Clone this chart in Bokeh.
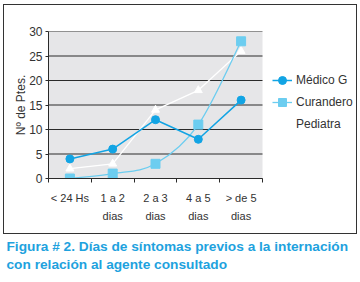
from bokeh.plotting import figure
from bokeh.models import Range1d, FixedTicker, Legend, LegendItem, InlineStyleSheet
from bokeh.embed import file_html
from bokeh.resources import INLINE

categories = ["< 24 Hs", "1 a 2\ndias", "2 a 3\ndias", "4 a 5\ndias", "> de 5\ndias"]
medico = [4, 6, 12, 8, 16]
curandero = [0, 1, 3, 11, 28]
pediatra = [2, 3, 14, 18, 26]
y_ticks = [0, 5, 10, 15, 20, 25, 30]
caption_lines = ["Figura  # 2. Días de síntomas previos a la internación",
                 "con relación al agente consultado"]

n = len(categories)
xs = [i + 0.5 for i in range(n)]
Y_MAX = 30

# layout: plot area 214 px wide; the frame is extended to the right to hold the legend
W, H, LEFT, AREA_W = 360, 282, 48, 214
x_end = n * (W - LEFT) / AREA_W

p = figure(width=W, height=H, output_backend="svg", toolbar_location=None,
           x_range=Range1d(0, x_end), y_range=Range1d(0, Y_MAX),
           min_border_left=LEFT, min_border_right=0, min_border_top=31, min_border_bottom=104)
p.background_fill_color = "white"
p.border_fill_color = "white"
p.outline_line_color = None
p.grid.visible = False

# outer box around the chart (drawn by CSS, not part of the data)
p.stylesheets = [InlineStyleSheet(css=(
    ":host::after{content:'';position:absolute;left:3px;top:4px;width:354px;height:230px;"
    "border:1px solid #333333;box-sizing:border-box;pointer-events:none;}"))]

# plot-area background and horizontal grid lines
p.quad(left=0, right=n, bottom=0, top=Y_MAX, fill_color="#e6e6e8", line_color=None)
p.segment(x0=[0] * len(y_ticks), x1=[n] * len(y_ticks), y0=y_ticks, y1=y_ticks,
          line_color="#2a2a2a", line_width=1)

p.yaxis.ticker = FixedTicker(ticks=y_ticks)
p.yaxis.axis_line_color = "#2a2a2a"
p.yaxis.major_tick_line_color = "#2a2a2a"
p.yaxis.major_tick_out = 3
p.yaxis.major_tick_in = 0
p.yaxis.minor_tick_line_color = None
p.yaxis.major_label_standoff = 3
p.yaxis.major_label_text_font = "Liberation Sans"
p.yaxis.major_label_text_font_size = "12px"
p.yaxis.major_label_text_color = "#333333"
p.yaxis.axis_label = "Nº de Ptes."
p.yaxis.axis_label_text_font = "Liberation Sans"
p.yaxis.axis_label_text_font_size = "12px"
p.yaxis.axis_label_text_font_style = "normal"
p.yaxis.axis_label_text_color = "#333333"
p.yaxis.axis_label_standoff = -2

p.xaxis.ticker = FixedTicker(ticks=xs, minor_ticks=list(range(n + 1)))
p.xaxis.bounds = (0, n)
p.xaxis.major_label_overrides = {x: c for x, c in zip(xs, categories)}
p.xaxis.axis_line_color = "#2a2a2a"
p.xaxis.major_tick_line_color = None
p.xaxis.minor_tick_line_color = "#2a2a2a"
p.xaxis.minor_tick_out = 4
p.xaxis.minor_tick_in = 0
p.xaxis.major_label_standoff = 7
p.xaxis.major_label_text_font = "Liberation Sans"
p.xaxis.major_label_text_font_size = "11px"
p.xaxis.major_label_text_color = "#333333"
p.xaxis.major_label_text_line_height = 1.55

ped_l = p.line(xs, pediatra, color="white", line_width=1.3)
ped_m = p.scatter(xs, pediatra, marker="triangle", size=8, color="white")

# curandero: smoothed curve (Catmull-Rom -> Bezier control points from the data)
x0s, y0s, x1s, y1s, cx0, cy0, cx1, cy1 = [], [], [], [], [], [], [], []
for i in range(n - 1):
    im1 = max(i - 1, 0)
    ip2 = min(i + 2, n - 1)
    x0s.append(xs[i]); y0s.append(curandero[i])
    x1s.append(xs[i + 1]); y1s.append(curandero[i + 1])
    cx0.append(xs[i] + (xs[i + 1] - xs[im1]) / 6)
    cy0.append(curandero[i] + (curandero[i + 1] - curandero[im1]) / 6)
    cx1.append(xs[i + 1] - (xs[ip2] - xs[i]) / 6)
    cy1.append(curandero[i + 1] - (curandero[ip2] - curandero[i]) / 6)
cur_l = p.bezier(x0=x0s, y0=y0s, x1=x1s, y1=y1s, cx0=cx0, cy0=cy0, cx1=cx1, cy1=cy1,
                 line_color="#6ccdf0", line_width=1.3)
cur_m = p.scatter(xs, curandero, marker="square", size=9, color="#6ccdf0")

med_l = p.line(xs, medico, color="#12a4e4", line_width=1.5)
med_m = p.scatter(xs, medico, marker="circle", size=8, color="#12a4e4")

legend = Legend(items=[
    LegendItem(label="Médico G", renderers=[med_l, med_m]),
    LegendItem(label="Curandero", renderers=[cur_l, cur_m]),
    LegendItem(label="Pediatra", renderers=[ped_l, ped_m]),
], location=(224, 44))
legend.padding = 0
legend.margin = 0
legend.spacing = 2
legend.label_height = 20
legend.glyph_height = 20
legend.glyph_width = 20
legend.label_standoff = 4
legend.border_line_color = None
legend.background_fill_alpha = 0
legend.label_text_font = "Liberation Sans"
legend.label_text_font_size = "12px"
legend.label_text_color = "#333333"
p.add_layout(legend, "center")

# caption as a title below the chart
p.title_location = "below"
p.title.text = "\n".join(caption_lines)
p.title.align = "left"
p.title.offset = -42
p.title.standoff = 22
p.title.text_font = "Liberation Sans"
p.title.text_font_size = "13.7px"
p.title.text_font_style = "bold"
p.title.text_color = "#1ea2de"
p.title.text_line_height = 1.2

open("out.html", "w").write(file_html(p, INLINE))
